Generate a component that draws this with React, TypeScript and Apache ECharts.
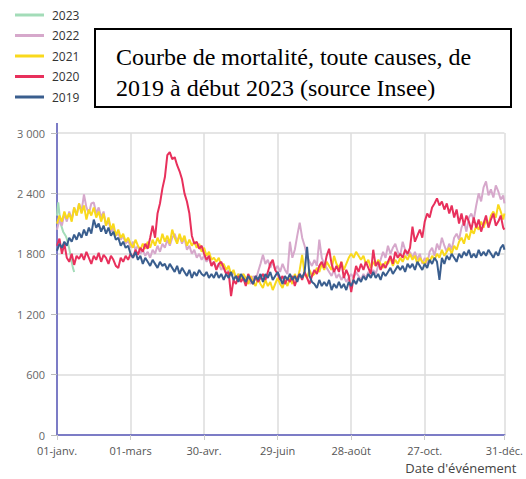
import React, { useEffect, useRef } from "react";
import * as echarts from "echarts";

const MONTHS = ["janv.", "févr.", "mars", "avr.", "mai", "juin", "juil.", "août", "sept.", "oct.", "nov.", "déc."];
const MONTH_DAYS = [31, 29, 31, 30, 31, 30, 31, 31, 30, 31, 30, 31];
const LABEL_DAYS = [0, 60, 120, 180, 240, 300, 365];
const Y_TICKS = [0, 600, 1200, 1800, 2400, 3000];
const STEP = 2;
const LAST_DAY = 365;

const TITLE_LINE1 = "Courbe de mortalité, toute causes, de";
const TITLE_LINE2 = "2019 à début 2023 (source Insee)";
const X_NAME = "Date d'événement";

const categories: string[] = [];
MONTHS.forEach((m, mi) => {
  for (let d = 1; d <= MONTH_DAYS[mi]; d++) {
    categories.push(String(d).padStart(2, "0") + "-" + m);
  }
});

// daily values, first days of January 2023
const v2023 = [2180, 2310, 2200, 2100, 2060, 2020, 2000, 1980, 1950, 1900, 1850, 1790, 1720, 1660, 1620];

// values every 2 days (last one = 31-déc)
const v2022 = [
  2040, 2140, 2080, 2200, 2120, 2220, 2140, 2260, 2180, 2300,
  2220, 2390, 2260, 2200, 2300, 2310, 2200, 2260, 2160, 2220,
  2080, 2140, 2020, 2060, 1980, 2000, 1940, 1980, 1900, 1940,
  1860, 1920, 1840, 1880, 1800, 1840, 1780, 1820, 1760, 1840,
  1800, 1880, 1820, 1900, 1860, 1940, 1880, 1960, 2000, 1920,
  1980, 1900, 1960, 1840, 1880, 1800, 1840, 1760, 1800, 1740,
  1780, 1720, 1760, 1680, 1720, 1660, 1700, 1640, 1680, 1600,
  1640, 1580, 1620, 1560, 1600, 1540, 1600, 1520, 1560, 1500,
  1580, 1540, 1620, 1700, 1790, 1700, 1740, 1660, 1720, 1640,
  1680, 1620, 1700, 1640, 1600, 1920, 1760, 1840, 1980, 2110,
  1960, 1880, 1780, 1720, 1680, 1740, 1680, 1940, 1760, 1700,
  1660, 1620, 1580, 1640, 1560, 1600, 1540, 1580, 1520, 1560,
  1600, 1560, 1620, 1580, 1540, 1600, 1560, 1620, 1580, 1640,
  1600, 1680, 1740, 1820, 1760, 1880, 1800, 1860, 1900, 1820,
  1780, 1920, 1840, 1780, 1820, 1760, 1820, 1740, 1800, 1700,
  1760, 1700, 1820, 1860, 1780, 1900, 1840, 1960, 1880, 1820,
  1900, 1840, 1960, 2000, 1940, 2060, 2120, 2020, 2160, 2200,
  2140, 2280, 2400, 2320, 2460, 2520, 2380, 2440, 2360, 2480,
  2420, 2340, 2380, 2300,
];

const v2021 = [
  2100, 2180, 2120, 2220, 2150, 2200, 2120, 2260, 2180, 2300,
  2200, 2280, 2140, 2240, 2180, 2260, 2160, 2220, 2120, 2200,
  2080, 2160, 2040, 2100, 1980, 2040, 1960, 2000, 1920, 1960,
  1900, 1860, 1940, 1880, 1840, 1900, 1850, 1920, 1860, 1940,
  1880, 1960, 1900, 2000, 1920, 1980, 1900, 2040, 1960, 1900,
  2000, 1920, 1980, 1880, 1940, 1880, 1920, 1860, 1900, 1820,
  1860, 1780, 1820, 1740, 1760, 1720, 1760, 1680, 1700, 1640,
  1680, 1600, 1640, 1560, 1600, 1540, 1600, 1560, 1500, 1580,
  1520, 1480, 1560, 1500, 1460, 1540, 1480, 1520, 1440, 1500,
  1560, 1500, 1460, 1540, 1480, 1560, 1500, 1600, 1540, 1640,
  1790, 1600, 1560, 1640, 1580, 1600, 1660, 1620, 1700, 1640,
  1720, 1680, 1640, 1780, 1700, 1660, 1720, 1640, 1700, 1760,
  1800, 1760, 1820, 1780, 1740, 1780, 1700, 1740, 1660, 1720,
  1680, 1740, 1700, 1660, 1720, 1700, 1760, 1680, 1740, 1700,
  1760, 1720, 1780, 1740, 1800, 1740, 1780, 1700, 1760, 1720,
  1700, 1760, 1720, 1780, 1740, 1800, 1760, 1840, 1780, 1820,
  1860, 1800, 1880, 1840, 1920, 1960, 1900, 2000, 1940, 2040,
  2000, 2080, 2040, 2120, 2060, 2140, 2080, 2180, 2220, 2160,
  2290, 2220, 2140, 2200,
];

const v2020 = [
  1880, 1950, 1800, 1900, 1760, 1720, 1800, 1690, 1780, 1750,
  1800, 1740, 1820, 1760, 1700, 1780, 1740, 1810, 1720, 1790,
  1760, 1700, 1780, 1740, 1680, 1660, 1760, 1720, 1780, 1740,
  1800, 1760, 1840, 1790, 1860, 1820, 1900, 1850, 1960, 2080,
  1960, 2200, 2300, 2450, 2560, 2780, 2810, 2740, 2760, 2680,
  2620, 2540, 2400, 2320, 2200, 1980, 1900, 1920, 1850, 1880,
  1800, 1740, 1780, 1680, 1720, 1640, 1700, 1720, 1660, 1600,
  1620, 1380, 1540, 1500, 1580, 1520, 1560, 1480, 1600, 1540,
  1500, 1580, 1520, 1560, 1600, 1540, 1620, 1700, 1740, 1640,
  1600, 1540, 1580, 1500, 1560, 1520, 1580, 1480, 1560, 1600,
  1540, 1620, 1560, 1500, 1580, 1640, 1600, 1680, 1720, 1660,
  1780, 1850, 1700, 1620, 1680, 1620, 1720, 1560, 1640, 1580,
  1420, 1560, 1680, 1620, 1700, 1640, 1720, 1660, 1600, 1840,
  1680, 1720, 1640, 1700, 1660, 1720, 1780, 1700, 1820, 1760,
  1800, 1760, 1840, 1800, 1860, 2070, 1920, 1980, 2040, 1960,
  2120, 2200, 2160, 2260, 2300, 2350, 2280, 2320, 2240, 2300,
  2200, 2280, 2160, 2240, 2100, 2200, 2080, 2180, 2120, 2040,
  2160, 2060, 2140, 2020, 2100, 2180, 2060, 2140, 2200, 2080,
  2120, 2180, 2060, 2040,
];

const v2019 = [
  1830, 1900, 1860, 1920, 1880, 1960, 1920, 1990, 1940, 2010,
  1960, 2040, 1980, 2060, 2000, 2140, 2060, 2100, 2020, 2080,
  2000, 2060, 1980, 2020, 1940, 1960, 1880, 1920, 1860, 1880,
  1800, 1760, 1820, 1740, 1780, 1700, 1760, 1720, 1680, 1740,
  1700, 1660, 1720, 1680, 1700, 1640, 1700, 1660, 1620, 1680,
  1600, 1660, 1620, 1580, 1640, 1560, 1620, 1580, 1640, 1600,
  1580, 1620, 1560, 1600, 1560, 1620, 1560, 1600, 1540, 1600,
  1560, 1620, 1540, 1580, 1520, 1600, 1560, 1520, 1580, 1540,
  1500, 1580, 1540, 1600, 1520, 1600, 1560, 1620, 1540, 1580,
  1620, 1560, 1500, 1580, 1540, 1600, 1540, 1580, 1520, 1600,
  1560, 1620, 1870, 1580, 1520, 1500, 1460, 1540, 1480, 1520,
  1480, 1540, 1440, 1500, 1460, 1520, 1460, 1500, 1440, 1520,
  1480, 1540, 1500, 1560, 1520, 1580, 1540, 1600, 1560, 1620,
  1560, 1600, 1540, 1620, 1580, 1620, 1660, 1600, 1640, 1680,
  1640, 1680, 1620, 1700, 1660, 1700, 1640, 1720, 1680, 1640,
  1700, 1660, 1740, 1700, 1760, 1720, 1540, 1760, 1700, 1780,
  1740, 1800, 1760, 1720, 1800, 1760, 1820, 1780, 1840, 1760,
  1800, 1760, 1840, 1780, 1820, 1780, 1840, 1800, 1760, 1820,
  1780, 1860, 1890, 1840,
];

const SERIES = [
  { name: "2023", values: v2023, step: 1, color: "#a3dcb8" },
  { name: "2022", values: v2022, step: STEP, color: "#d6a8cb" },
  { name: "2021", values: v2021, step: STEP, color: "#f9d91c" },
  { name: "2020", values: v2020, step: STEP, color: "#e8305c" },
  { name: "2019", values: v2019, step: STEP, color: "#3a5e8e" },
];

const fmt = (v: number) => String(v).replace(/\B(?=(\d{3})+(?!\d))/g, " ");

const TITLE_FONT = '24px "Liberation Serif"';

export default function App() {
  const ref = useRef<HTMLDivElement>(null);
  useEffect(() => {
    if (!ref.current) return;
    const chart = echarts.init(ref.current, null, { renderer: "svg" });
    const axisColor = "#7c7cc6";
    chart.setOption({
      animation: false,
      backgroundColor: "#fff",
      legend: {
        orient: "vertical",
        left: 10,
        top: 4,
        itemWidth: 29,
        itemHeight: 3,
        itemGap: 8.5,
        icon: "rect",
        data: SERIES.map((s) => s.name),
        textStyle: { fontFamily: "Open Sans", fontSize: 12, color: "#333", padding: [0, 0, 0, 3] },
      },
      grid: { left: 57, right: 15, top: 133, bottom: 44 },
      xAxis: {
        type: "category",
        data: categories,
        boundaryGap: false,
        name: X_NAME,
        nameLocation: "end",
        nameGap: 12,
        nameTextStyle: {
          fontFamily: "Open Sans",
          fontSize: 13,
          color: "#444",
          align: "right",
          verticalAlign: "top",
          padding: [26, 0, 0, 0],
        },
        axisLine: { lineStyle: { color: axisColor, width: 2 } },
        axisTick: {
          show: true,
          length: 5,
          interval: (i: number) => LABEL_DAYS.includes(i),
          lineStyle: { color: "#ccc" },
        },
        axisLabel: {
          interval: (i: number) => LABEL_DAYS.includes(i),
          fontFamily: "Open Sans",
          fontSize: 11,
          color: "#555",
          margin: 10,
        },
        splitLine: {
          show: true,
          interval: (i: number) => LABEL_DAYS.includes(i) && i !== 0,
          lineStyle: { color: "#dcdcdc", width: 1.5 },
        },
      },
      yAxis: {
        type: "value",
        min: Y_TICKS[0],
        max: Y_TICKS[Y_TICKS.length - 1],
        interval: Y_TICKS[1] - Y_TICKS[0],
        axisLine: { show: true, lineStyle: { color: axisColor, width: 2 } },
        axisTick: { show: true, length: 6, lineStyle: { color: "#bbb" } },
        axisLabel: {
          fontFamily: "Open Sans",
          fontSize: 11,
          color: "#666",
          margin: 12,
          formatter: (v: number) => fmt(v),
        },
        splitLine: { lineStyle: { color: "#dcdcdc", width: 1.5 } },
      },
      graphic: [
        {
          type: "line",
          shape: { x1: 57, y1: 123, x2: 57, y2: 134 },
          style: { stroke: axisColor, lineWidth: 2 },
          silent: true,
        },
        {
          type: "rect",
          shape: { x: 95, y: 29, width: 416, height: 78 },
          style: { fill: "#fff", stroke: "#000", lineWidth: 2 },
        },
        {
          type: "text",
          x: 116,
          y: 57,
          style: { text: TITLE_LINE1, font: TITLE_FONT, fill: "#000", verticalAlign: "middle" },
        },
        {
          type: "text",
          x: 116,
          y: 88,
          style: { text: TITLE_LINE2, font: TITLE_FONT, fill: "#000", verticalAlign: "middle" },
        },
      ],
      series: SERIES.map((s) => ({
        name: s.name,
        type: "line",
        showSymbol: false,
        symbol: "none",
        color: s.color,
        lineStyle: { color: s.color, width: 2 },
        data: s.values.map((v, i) => [Math.min(i * s.step, LAST_DAY), v]),
      })),
    });
    return () => chart.dispose();
  }, []);
  return <div ref={ref} style={{ width: 526, height: 479, position: "absolute", left: 0, top: 0 }} />;
}
